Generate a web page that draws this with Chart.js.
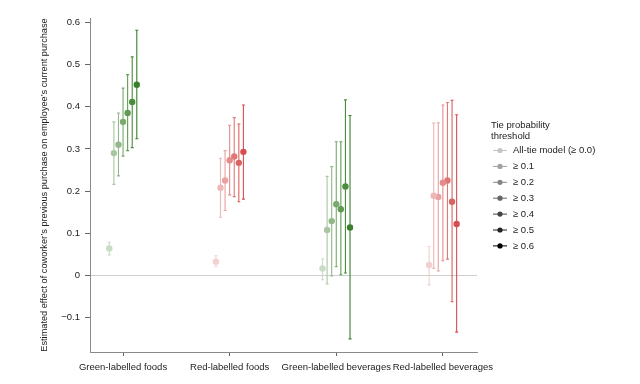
<!DOCTYPE html>
<html>
<head>
<meta charset="utf-8">
<script src="https://cdn.jsdelivr.net/npm/chart.js@4/dist/chart.umd.min.js"></script>
<style>
html,body{margin:0;padding:0;background:#fff;}
#wrap{width:640px;height:384px;}
</style>
</head>
<body>
<div id="wrap"><canvas id="c" width="640" height="384"></canvas></div>
<script>
// ---- data ----
const categories = ['Green-labelled foods', 'Red-labelled foods', 'Green-labelled beverages', 'Red-labelled beverages'];
const categoryLabelColour = ['green', 'red', 'green', 'red'];
const thresholds = ['All-tie model (\u2265 0.0)', '\u2265 0.1', '\u2265 0.2', '\u2265 0.3', '\u2265 0.4', '\u2265 0.5', '\u2265 0.6'];
const yTicks = [-0.1, 0, 0.1, 0.2, 0.3, 0.4, 0.5, 0.6];

const greenFoodsEst  = [0.064, 0.290, 0.310, 0.364, 0.385, 0.411, 0.452];
const greenFoodsLow  = [0.049, 0.216, 0.236, 0.283, 0.296, 0.303, 0.324];
const greenFoodsHigh = [0.079, 0.364, 0.385, 0.444, 0.476, 0.518, 0.581];

const redFoodsEst  = [0.033, 0.208, 0.225, 0.273, 0.282, 0.267, 0.293];
const redFoodsLow  = [0.021, 0.138, 0.154, 0.191, 0.187, 0.175, 0.181];
const redFoodsHigh = [0.047, 0.278, 0.296, 0.356, 0.374, 0.359, 0.404];

const greenBevEst  = [0.017, 0.108, 0.129, 0.169, 0.157, 0.211, 0.114];
const greenBevLow  = [-0.010, -0.020, -0.001, 0.021, 0.002, 0.006, -0.150];
const greenBevHigh = [0.040, 0.235, 0.258, 0.317, 0.317, 0.416, 0.379];

const redBevEst  = [0.025, 0.189, 0.186, 0.220, 0.225, 0.175, 0.122];
const redBevLow  = [-0.022, 0.017, 0.011, 0.035, 0.039, -0.062, -0.134];
const redBevHigh = [0.069, 0.361, 0.362, 0.404, 0.410, 0.415, 0.381];

// ---- styles ----
const greenShades = ['#c9dcc5', '#a8c6a0', '#92b889', '#79a96d', '#609b53', '#4a8d3d', '#3a802c'];
const redShades   = ['#f3cfcf', '#ecb7b7', '#e8a2a2', '#e48c8c', '#e07777', '#dc6363', '#d84e4e'];
const legendShades = ['#c4c4c4', '#a2a2a2', '#858585', '#666666', '#454545', '#232323', '#000000'];
const FONT = '"Liberation Sans", Arial, Helvetica, sans-serif';
const TXT = '#222';
const dodge = 0.043;

const estByCat  = [greenFoodsEst, redFoodsEst, greenBevEst, redBevEst];
const lowByCat  = [greenFoodsLow, redFoodsLow, greenBevLow, redBevLow];
const highByCat = [greenFoodsHigh, redFoodsHigh, greenBevHigh, redBevHigh];

function xPos(c, s) { return (c + 1) + (s - 3) * dodge; }
function shade(c, s) { return categoryLabelColour[c] === 'green' ? greenShades[s] : redShades[s]; }

const datasets = thresholds.map((t, s) => ({
  label: t,
  data: categories.map((_, c) => ({ x: xPos(c, s), y: estByCat[c][s] })),
  pointBackgroundColor: categories.map((_, c) => shade(c, s)),
  pointBorderWidth: 0,
  pointRadius: 3.2,
  pointHoverRadius: 3.2,
  showLine: false
}));

const errorBars = {
  id: 'errorBars',
  beforeDatasetsDraw(chart) {
    const { ctx, scales: { x, y } } = chart;
    ctx.save();
    ctx.lineWidth = 1.1;
    thresholds.forEach((t, s) => {
      categories.forEach((_, c) => {
        const px = x.getPixelForValue(xPos(c, s));
        const lo = y.getPixelForValue(lowByCat[c][s]);
        const hi = y.getPixelForValue(highByCat[c][s]);
        ctx.strokeStyle = shade(c, s);
        ctx.beginPath();
        ctx.moveTo(px, lo); ctx.lineTo(px, hi);
        ctx.moveTo(px - 1.5, lo); ctx.lineTo(px + 1.5, lo);
        ctx.moveTo(px - 1.5, hi); ctx.lineTo(px + 1.5, hi);
        ctx.stroke();
      });
    });
    ctx.restore();
  },
  afterDraw(chart) {
    const { ctx } = chart;
    ctx.save();
    ctx.font = '9.5px ' + FONT;
    ctx.fillStyle = TXT;
    ctx.textBaseline = 'middle';
    ctx.textAlign = 'left';
    ctx.fillText('Tie probability', 491, 125);
    ctx.fillText('threshold', 491, 136);
    thresholds.forEach((t, s) => {
      const yy = 150.5 + s * 15.9;
      ctx.strokeStyle = legendShades[s];
      ctx.fillStyle = legendShades[s];
      ctx.lineWidth = 1;
      ctx.beginPath(); ctx.moveTo(493, yy); ctx.lineTo(507, yy); ctx.stroke();
      ctx.beginPath(); ctx.arc(500, yy, 2.6, 0, Math.PI * 2); ctx.fill();
      ctx.fillStyle = TXT;
      ctx.fillText(t, 513, yy);
    });
    ctx.restore();
  }
};

new Chart(document.getElementById('c'), {
  type: 'scatter',
  data: { datasets },
  plugins: [errorBars],
  options: {
    responsive: false,
    animation: false,
    events: [],
    layout: { padding: { top: 18, right: 163, left: 0, bottom: 0 } },
    plugins: { legend: { display: false }, tooltip: { enabled: false }, title: { display: false } },
    scales: {
      x: {
        type: 'linear',
        min: 0.69, max: 4.32,
        afterBuildTicks(scale) { scale.ticks = categories.map((_, i) => ({ value: i + 1 })); },
        afterFit(scale) { scale.height = 32; },
        grid: { drawOnChartArea: false, tickLength: 4, tickColor: '#666', color: '#666' },
        border: { display: true, color: '#8a8a8a', width: 1 },
        ticks: {
          autoSkip: false, maxRotation: 0, padding: 6,
          color: TXT, font: { family: FONT, size: 9.5 },
          callback(v) { return categories[Math.round(v) - 1]; }
        }
      },
      y: {
        min: -0.181, max: 0.61,
        afterBuildTicks(scale) { scale.ticks = yTicks.map(v => ({ value: v })); },
        afterFit(scale) { scale.width = 90; },
        grid: {
          drawOnChartArea: true, tickLength: 5, tickColor: '#666',
          color(ctx) { return (ctx.tick && Math.abs(ctx.tick.value) < 1e-9) ? '#cfcfcf' : 'rgba(0,0,0,0)'; }
        },
        border: { display: true, color: '#8a8a8a', width: 1 },
        ticks: {
          padding: 5, color: TXT, font: { family: FONT, size: 9.5 },
          callback(v) {
            const r = Math.round(v * 10) / 10;
            if (r === 0) return '0';
            return r < 0 ? '\u2212' + Math.abs(r).toFixed(1) : r.toFixed(1);
          }
        },
        title: {
          display: true,
          text: 'Estimated effect of coworker\u2019s previous purchase on employee\u2019s current purchase',
          color: TXT, font: { family: FONT, size: 9.2 },
          padding: { top: 38.5, bottom: 0 }
        }
      }
    }
  }
});
</script>
</body>
</html>
